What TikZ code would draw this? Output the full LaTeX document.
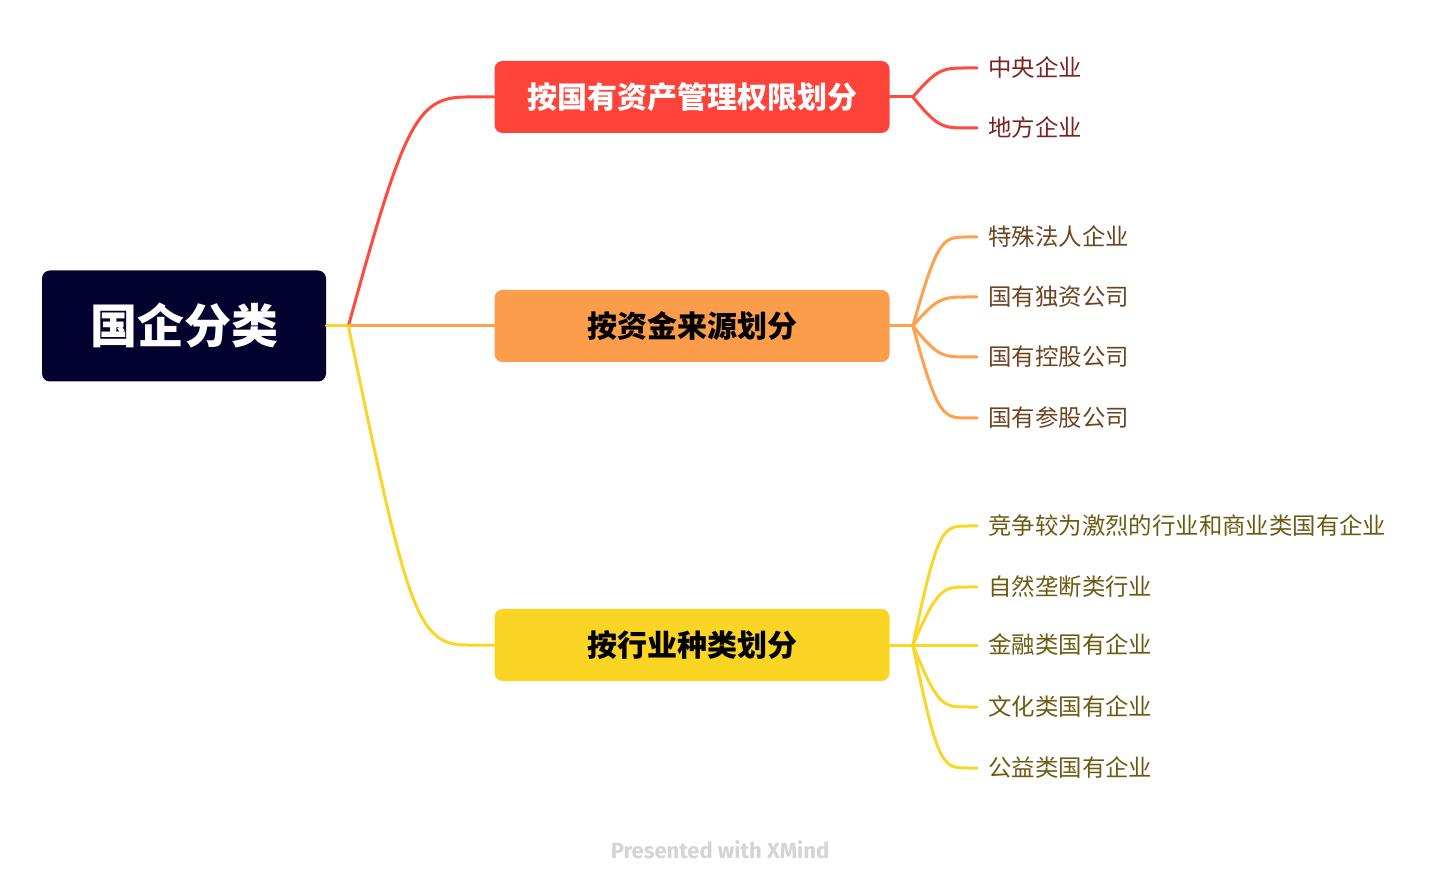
\documentclass[tikz,border=0pt]{standalone}
\usepackage{fontspec}
\usepackage{xcolor}
\usetikzlibrary{calc}
\newfontfamily\cjk{Noto Sans CJK SC}
\newfontfamily\footfont{Fira Sans}
\definecolor{navy}{HTML}{03022F}
\definecolor{topicred}{HTML}{FE433A}
\definecolor{topicorange}{HTML}{FC9D4B}
\definecolor{topicyellow}{HTML}{FAD523}
\definecolor{linered}{HTML}{FF4A3D}
\definecolor{lineorange}{HTML}{FFA04D}
\definecolor{lineyellow}{HTML}{FAD628}
\definecolor{textred}{HTML}{7B2222}
\definecolor{textbrown}{HTML}{6E4420}
\definecolor{textolive}{HTML}{6B5B12}
\definecolor{footgray}{HTML}{D4D4D4}

\begin{document}
\begin{tikzpicture}[x=0.5pt, y=-0.5pt,
  topic/.style={rounded corners=4pt, minimum width=197.5pt, minimum height=36pt,
    font=\cjk\fontsize{15}{18}\selectfont\bfseries},
  leaf/.style={anchor=west, inner xsep=5.5pt, font=\cjk\fontsize{11.7}{14}\selectfont},
  link/.style={line width=1.5pt, line cap=round}]
\useasboundingbox (0,0) rectangle (1440,892);

% root and main topics
\node[fill=navy, rounded corners=4pt, minimum width=142pt, minimum height=55.5pt,
  text=white, font=\cjk\fontsize{23.5}{28}\selectfont\bfseries] (root) at (184,326) {国企分类};
\node[topic, fill=topicred, text=white] (b1) at (692,97) {按国有资产管理权限划分};
\node[topic, fill=topicorange, text=black] (b2) at (692,326) {按资金来源划分};
\node[topic, fill=topicyellow, text=black] (b3) at (692,645) {按行业种类划分};

\coordinate (f0) at ([xshift=11pt]root.east);
\coordinate (f1) at ([xshift=11.5pt]b1.east);
\coordinate (f2) at ([xshift=11.5pt]b2.east);
\coordinate (f3) at ([xshift=11.5pt]b3.east);

\draw[link, lineyellow] (root.east) -- (f0);
\draw[link, linered] (f0) .. controls +(55,-200) and +(-50,0) .. ([xshift=-14pt]b1.west) -- (b1.west);
\draw[link, lineorange] (f0) -- (b2.west);
\draw[link, lineyellow] (f0) .. controls +(58,280) and +(-50,0) .. ([xshift=-14pt]b3.west) -- (b3.west);
\draw[link, linered] (b1.east) -- (f1);
\draw[link, lineorange] (b2.east) -- (f2);
\draw[link, lineyellow] (b3.east) -- (f3);

% subtopics
\foreach \name/\txt/\y in {l11/中央企业/68, l12/地方企业/128} {
  \node[leaf, text=textred] (\name) at (977,\y) {\txt};
  \draw[link, linered] (f1) .. controls ($(f1 |- \name.west)+(25,0)$) and ($(f1 |- \name.west)+(30,0)$)
    .. ($(f1 |- \name.west)+(55,0)$) -- (\name.west);
}
\foreach \name/\txt/\y in {l21/特殊法人企业/237, l22/国有独资公司/297, l23/国有控股公司/357, l24/国有参股公司/418} {
  \node[leaf, text=textbrown] (\name) at (977,\y) {\txt};
  \draw[link, lineorange] (f2) .. controls ($(f2 |- \name.west)+(25,0)$) and ($(f2 |- \name.west)+(30,0)$)
    .. ($(f2 |- \name.west)+(55,0)$) -- (\name.west);
}
\foreach \name/\txt/\y in {l31/竞争较为激烈的行业和商业类国有企业/526, l32/自然垄断类行业/587,
  l33/金融类国有企业/645, l34/文化类国有企业/707, l35/公益类国有企业/768} {
  \node[leaf, text=textolive] (\name) at (977,\y) {\txt};
  \draw[link, lineyellow] (f3) .. controls ($(f3 |- \name.west)+(25,0)$) and ($(f3 |- \name.west)+(30,0)$)
    .. ($(f3 |- \name.west)+(55,0)$) -- (\name.west);
}

\node[text=footgray, font=\footfont\bfseries\fontsize{11}{13}\selectfont] (credit) at (720,850) {Presented with XMind};
\end{tikzpicture}
\end{document}
